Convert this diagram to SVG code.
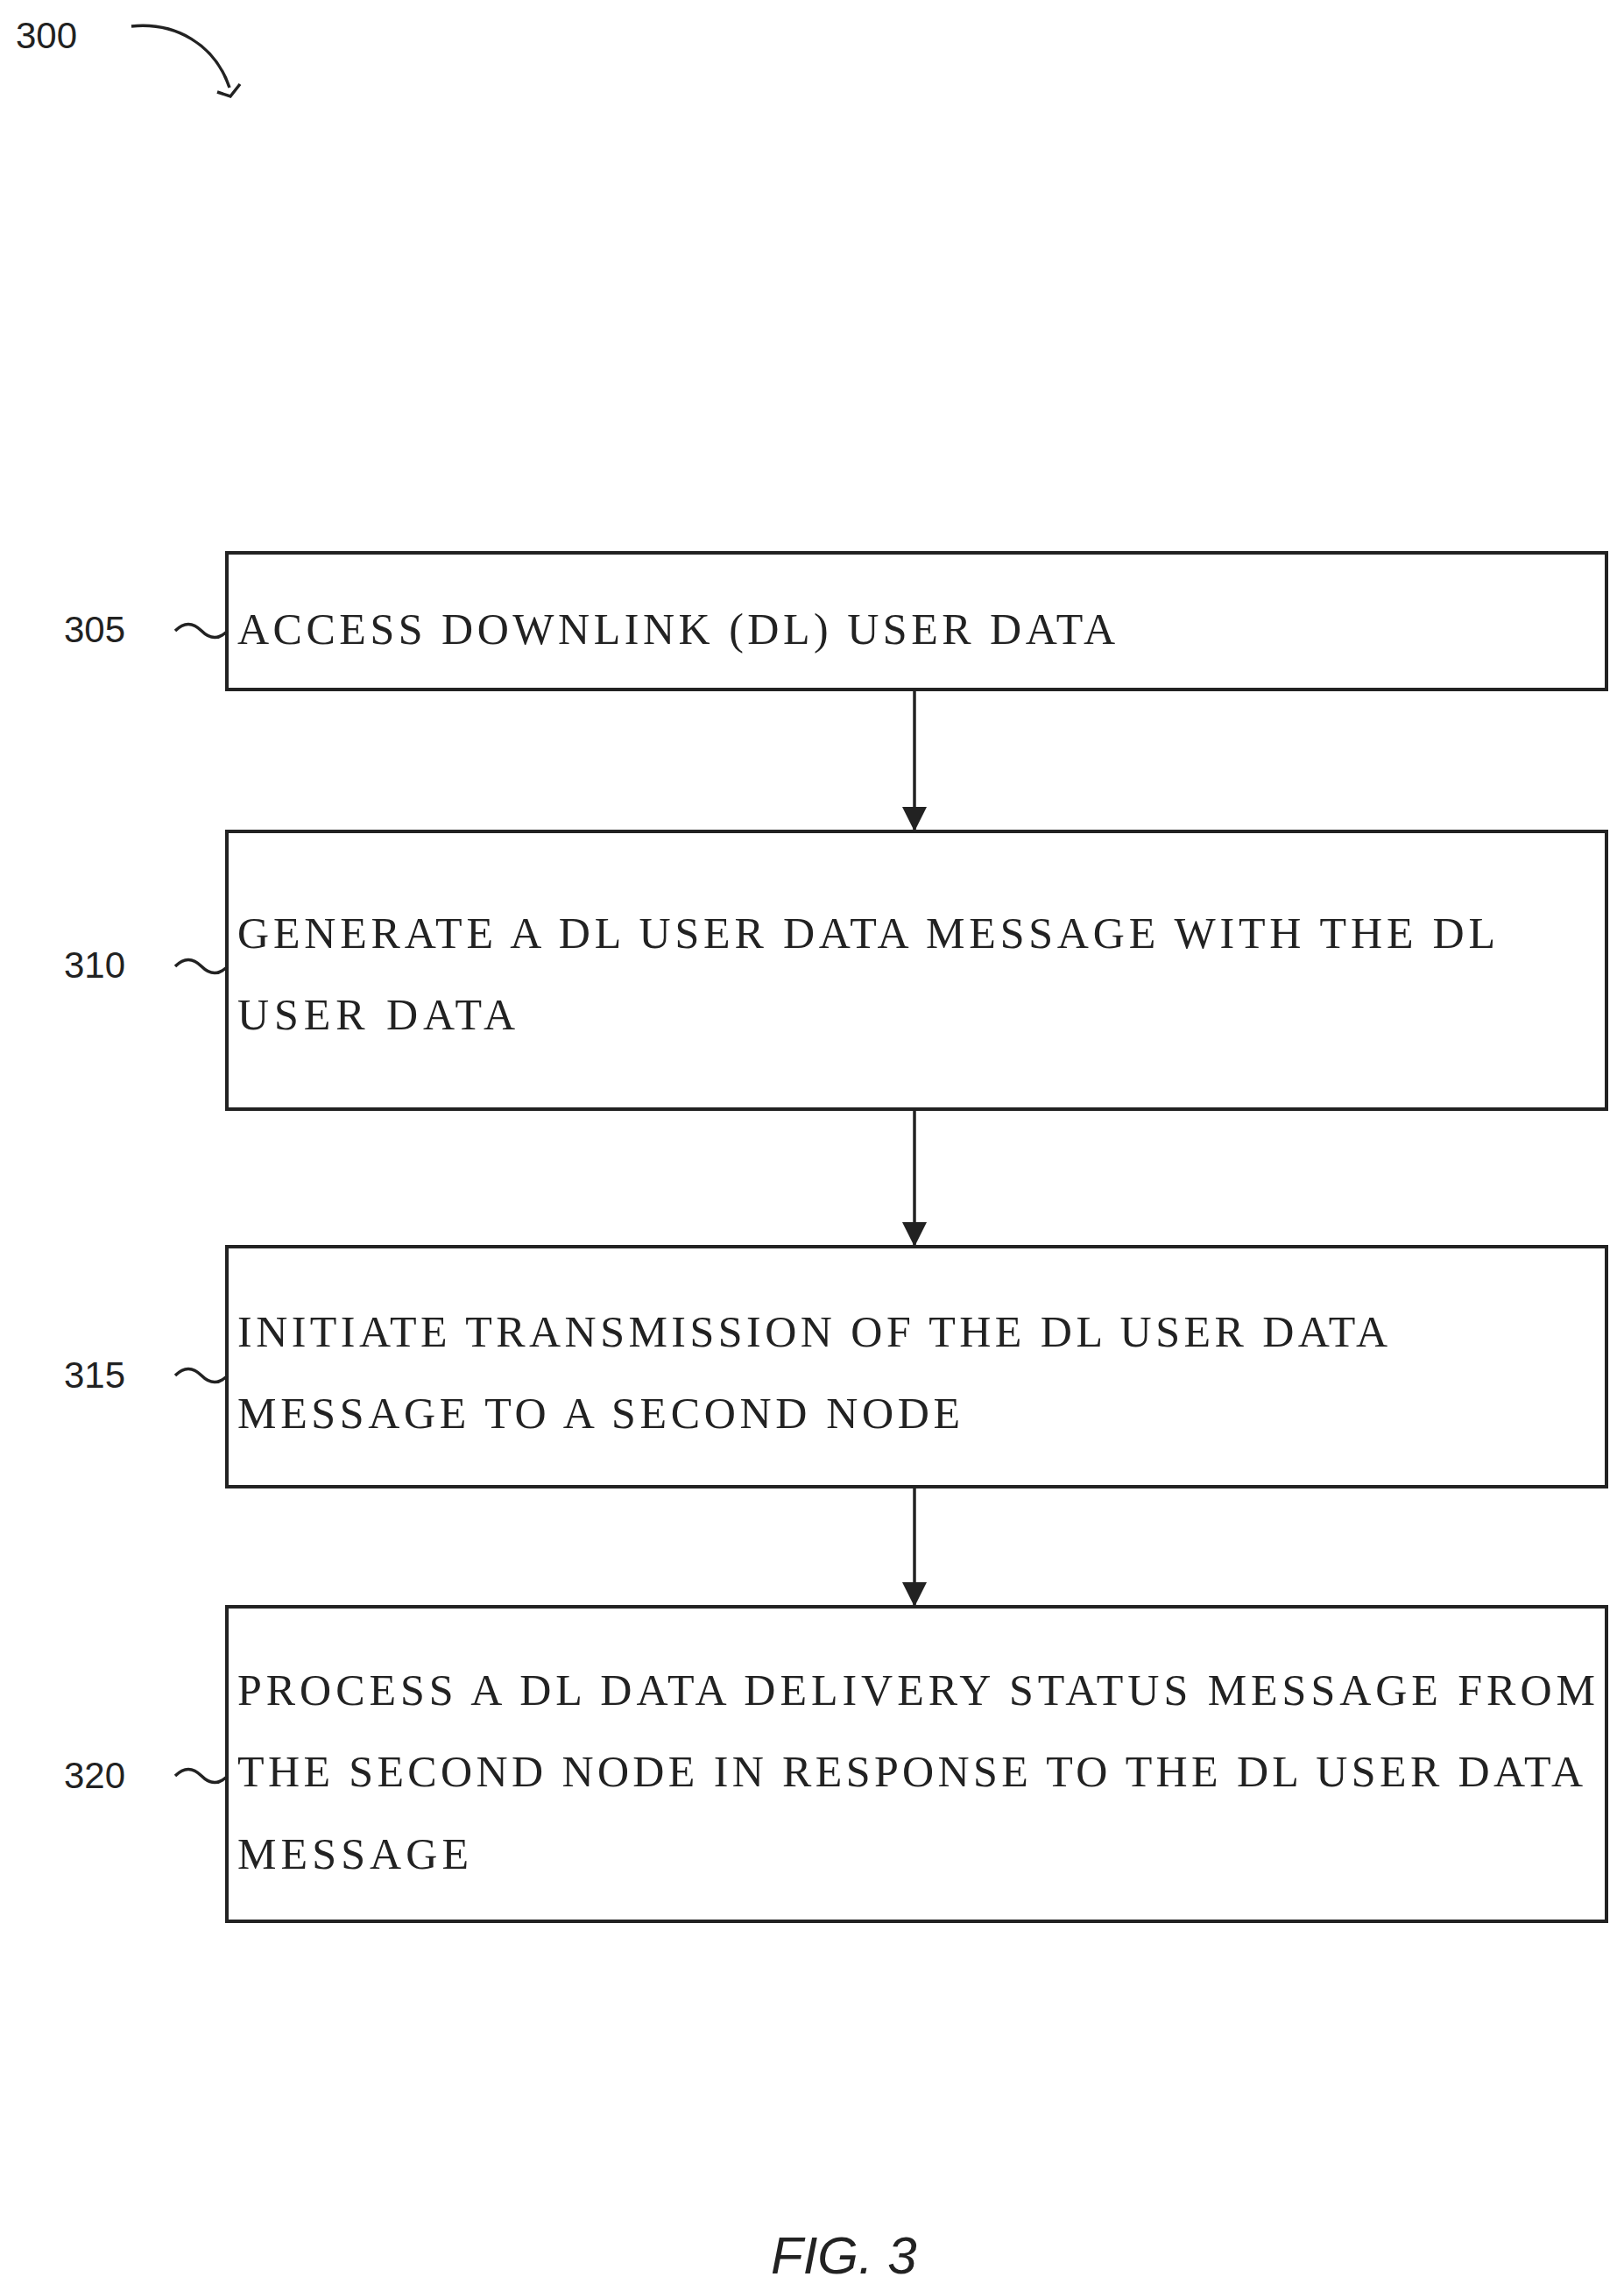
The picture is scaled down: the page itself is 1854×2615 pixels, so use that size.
<svg xmlns="http://www.w3.org/2000/svg" width="1854" height="2615" viewBox="0 0 1854 2615">
<style>
.box{fill:#fff;stroke:#222;stroke-width:4}
.t{font-family:"Liberation Serif",serif;font-size:50px;fill:#222}
.l{font-family:"Liberation Sans",sans-serif;font-size:42px;fill:#222}
.c{fill:none;stroke:#222;stroke-width:3.5}
</style>
<defs>
<marker id="b" markerWidth="28" markerHeight="28" refX="26" refY="14" orient="auto" markerUnits="userSpaceOnUse"><path d="M0,0 L28,14 L0,28 z" fill="#222"/></marker></defs>
<g id="label300"><text class="l" x="18" y="55">300</text><path class="c" d="M150,30 C200,25 245,50 262,100" /><path class="c" d="M248,105 L263,110 L274,96"/></g>
<g id="connectors">
<line class="c" x1="1044" y1="787" x2="1044" y2="947" marker-end="url(#b)"/>
<line class="c" x1="1044" y1="1266" x2="1044" y2="1421" marker-end="url(#b)"/>
<line class="c" x1="1044" y1="1697" x2="1044" y2="1832" marker-end="url(#b)"/>
</g>
<g id="n305"><rect class="box" x="259" y="631" width="1575" height="156"/><text class="t" x="271" y="735" textLength="1002" lengthAdjust="spacing">ACCESS DOWNLINK (DL) USER DATA</text><text class="l" x="73" y="733">305</text><path class="c" d="M200,720 c10,-10 20,-10 30,0 s20,10 30,0"/></g>
<g id="n310"><rect class="box" x="259" y="949" width="1575" height="317"/><text class="t" x="271" y="1082" textLength="1436" lengthAdjust="spacing">GENERATE A DL USER DATA MESSAGE WITH THE DL</text><text class="t" x="271" y="1175" textLength="317" lengthAdjust="spacing">USER DATA</text><text class="l" x="73" y="1116">310</text><path class="c" d="M200,1103 c10,-10 20,-10 30,0 s20,10 30,0"/></g>
<g id="n315"><rect class="box" x="259" y="1423" width="1575" height="274"/><text class="t" x="271" y="1537" textLength="1313" lengthAdjust="spacing">INITIATE TRANSMISSION OF THE DL USER DATA</text><text class="t" x="271" y="1630" textLength="825" lengthAdjust="spacing">MESSAGE TO A SECOND NODE</text><text class="l" x="73" y="1584">315</text><path class="c" d="M200,1570 c10,-10 20,-10 30,0 s20,10 30,0"/></g>
<g id="n320"><rect class="box" x="259" y="1834" width="1575" height="359"/><text class="t" x="271" y="1946" textLength="1550" lengthAdjust="spacing">PROCESS A DL DATA DELIVERY STATUS MESSAGE FROM</text><text class="t" x="271" y="2039" textLength="1536" lengthAdjust="spacing">THE SECOND NODE IN RESPONSE TO THE DL USER DATA</text><text class="t" x="271" y="2133" textLength="264" lengthAdjust="spacing">MESSAGE</text><text class="l" x="73" y="2041">320</text><path class="c" d="M200,2027 c10,-10 20,-10 30,0 s20,10 30,0"/></g>
<text x="880" y="2595" font-family="Liberation Sans,sans-serif" font-style="italic" font-size="60" fill="#222">FIG. 3</text>
</svg>
